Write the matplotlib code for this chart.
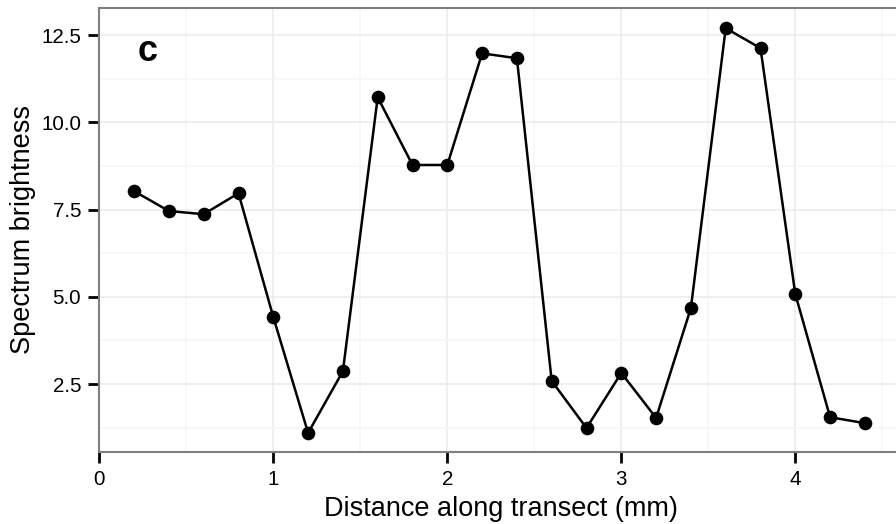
import matplotlib
matplotlib.use("Agg")
import matplotlib.pyplot as plt
from matplotlib.ticker import MultipleLocator

plt.rcParams['font.family'] = ['Liberation Sans', 'DejaVu Sans']

distance = [0.2, 0.4, 0.6, 0.8, 1.0, 1.2, 1.4, 1.6, 1.8, 2.0, 2.2,
            2.4, 2.6, 2.8, 3.0, 3.2, 3.4, 3.6, 3.8, 4.0, 4.2, 4.4]
brightness = [8.03, 7.46, 7.37, 7.97, 4.42, 1.10, 2.87, 10.72, 8.78, 8.78, 11.98,
              11.84, 2.59, 1.24, 2.82, 1.53, 4.68, 12.70, 12.13, 5.08, 1.55, 1.38]
x_ticks = [0, 1, 2, 3, 4]
y_ticks = [2.5, 5.0, 7.5, 10.0, 12.5]

W, H = 896, 524
fig = plt.figure(figsize=(W / 100, H / 100), dpi=100)
left, right, top, bottom = 99.3, 903, 8, 452
ax = fig.add_axes([left / W, 1 - bottom / H, (right - left) / W, (bottom - top) / H])

ax.set_xlim(0, (right - left) / 174.0)
ax.set_ylim(0.553, 13.28)

ax.plot(distance, brightness, color='black', lw=1.8, marker='o', ms=8.8,
        zorder=3, clip_on=False)

ax.set_xticks(x_ticks)
ax.set_yticks(y_ticks)
ax.set_yticklabels([f"{v:.1f}" for v in y_ticks])
ax.xaxis.set_minor_locator(MultipleLocator(0.5))
ax.yaxis.set_minor_locator(MultipleLocator(1.25))
ax.grid(which='major', color='#ebebeb', lw=1.1)
ax.grid(which='minor', color='#f5f5f5', lw=1.1)
ax.set_axisbelow(True)

for s in ax.spines.values():
    s.set_color('#7f7f7f')
    s.set_linewidth(1.5)

ax.tick_params(which='major', length=8, width=2, color='black',
               labelsize=14.8, labelcolor='black', pad=5)
ax.tick_params(which='minor', length=0)

ax.set_xlabel('Distance along transect (mm)', fontsize=19.5, labelpad=5)
ax.set_ylabel('Spectrum brightness', fontsize=19.5, labelpad=4)

ax.text(0.276, 12.04, 'c', fontsize=26, fontweight='bold', ha='center', va='center')

fig.savefig('out.png', dpi=100)
